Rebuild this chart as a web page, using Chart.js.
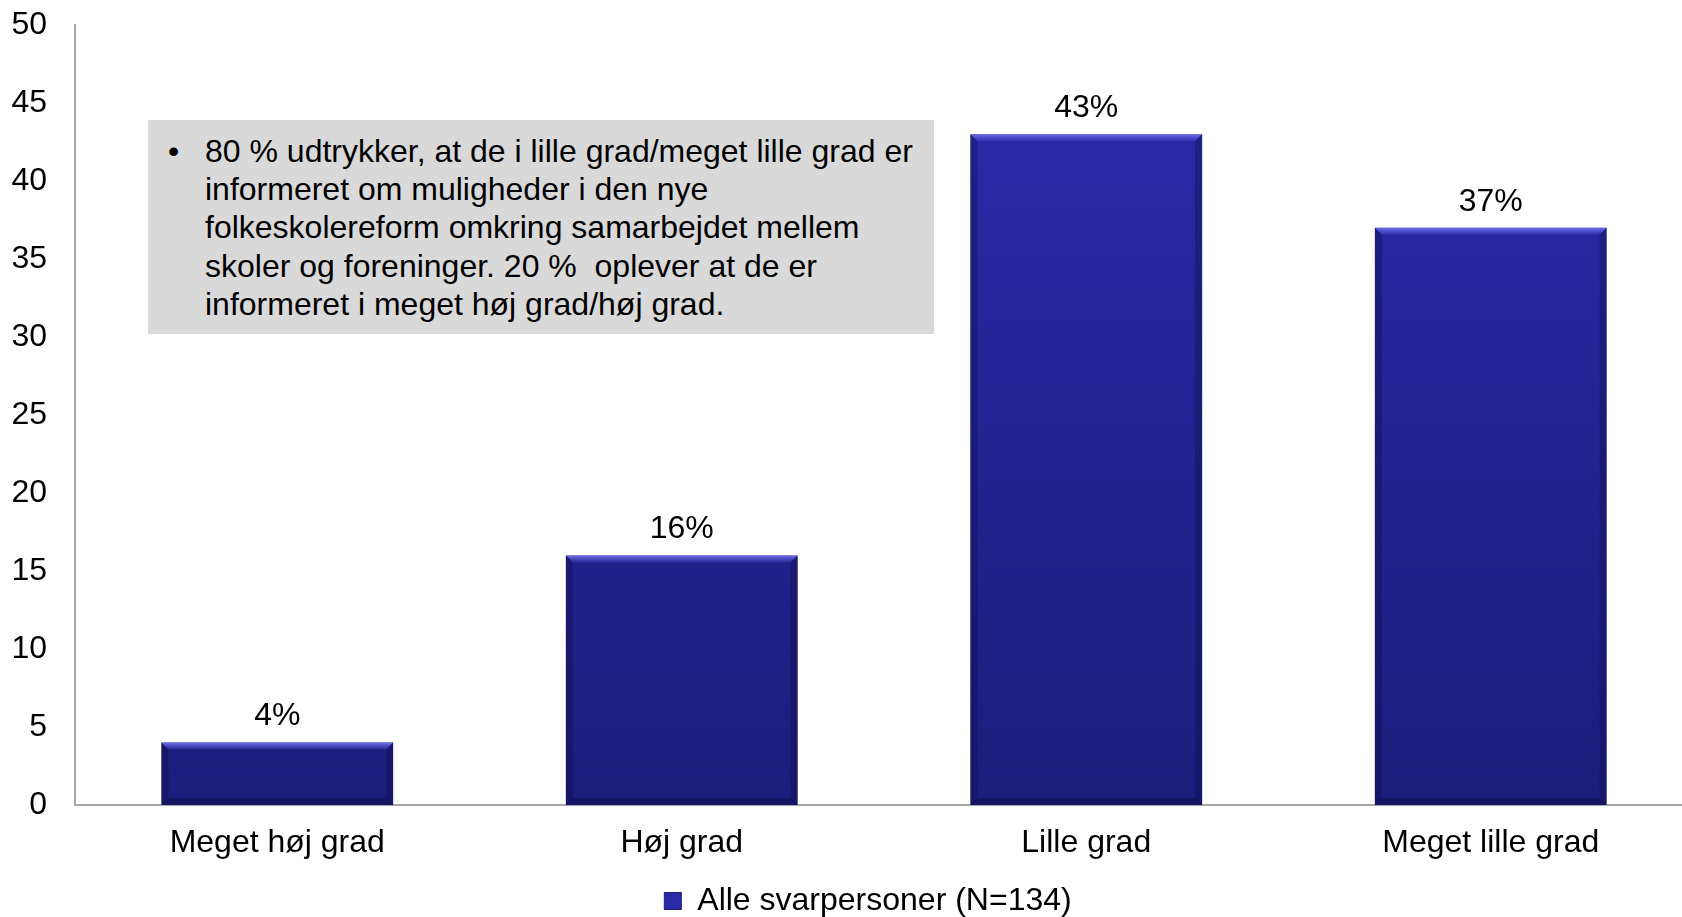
<!DOCTYPE html>
<html>
<head>
<meta charset="utf-8">
<script src="https://cdn.jsdelivr.net/npm/chart.js@4"></script>
<style>
  html, body { margin: 0; padding: 0; background: #fff; overflow: hidden; }
  #wrap { position: relative; width: 1682px; height: 917px; overflow: hidden; }
  #note {
    position: absolute; left: 148px; top: 120px; width: 786px; height: 214px;
    background: #d9d9d9; box-sizing: border-box; padding: 12px 10px 0 57px;
    font-family: "Liberation Sans", Arial, sans-serif; font-size: 32px; line-height: 38.2px; color: #000;
    white-space: nowrap;
  }
  #note .dot { position: absolute; left: 20px; top: 12px; }
</style>
</head>
<body>
<div id="wrap">
  <!-- the original's plot runs a little past the right edge, so the canvas is wider than the window -->
  <canvas id="chart" width="1693" height="917"></canvas>
  <div id="note"><span class="dot">•</span>80 % udtrykker, at de i lille grad/meget lille grad er<br>informeret om muligheder i den nye<br>folkeskolereform omkring samarbejdet mellem<br>skoler og foreninger. 20 %&nbsp; oplever at de er<br>informeret i meget høj grad/høj grad.</div>
</div>
<script>
const categories = ["Meget høj grad", "Høj grad", "Lille grad", "Meget lille grad"];
const values = [4, 16, 43, 37];
const seriesName = "Alle svarpersoner (N=134)";
const yTicks = [0, 5, 10, 15, 20, 25, 30, 35, 40, 45, 50];

const font = "Liberation Sans, Arial, sans-serif";

// bar fill: blue gradient, darker at the bottom
function barFill(context) {
  const chart = context.chart;
  const area = chart.chartArea;
  if (!area) return '#2626a0';
  const g = chart.ctx.createLinearGradient(0, area.top, 0, area.bottom);
  g.addColorStop(0, '#2b2bab');
  g.addColorStop(1, '#1c1c7c');
  return g;
}

// bevel edges + value labels
const bevel = {
  id: 'bevel',
  afterLayout(chart) {
    // legend sits a bit right of the canvas centre in the original
    chart.legend.left += 43;
  },
  afterDatasetsDraw(chart) {
    const ctx = chart.ctx;
    const meta = chart.getDatasetMeta(0);
    ctx.save();
    meta.data.forEach((bar, i) => {
      const left = bar.x - bar.width / 2;
      const right = bar.x + bar.width / 2;
      const top = bar.y;
      const bottom = bar.base;
      const b = 7;
      // top highlight
      const hl = ctx.createLinearGradient(0, top, 0, top + b);
      hl.addColorStop(0, 'rgba(120,120,245,0.9)');
      hl.addColorStop(1, 'rgba(90,90,220,0.2)');
      ctx.fillStyle = hl;
      ctx.beginPath();
      ctx.moveTo(left, top); ctx.lineTo(right, top);
      ctx.lineTo(right - b, top + b); ctx.lineTo(left + b, top + b);
      ctx.closePath(); ctx.fill();
      // sides
      ctx.fillStyle = 'rgba(10,10,60,0.3)';
      ctx.beginPath();
      ctx.moveTo(left, top); ctx.lineTo(left + b, top + b);
      ctx.lineTo(left + b, bottom - b); ctx.lineTo(left, bottom);
      ctx.closePath(); ctx.fill();
      ctx.beginPath();
      ctx.moveTo(right, top); ctx.lineTo(right - b, top + b);
      ctx.lineTo(right - b, bottom - b); ctx.lineTo(right, bottom);
      ctx.closePath(); ctx.fill();
      // bottom
      ctx.fillStyle = 'rgba(10,10,60,0.4)';
      ctx.beginPath();
      ctx.moveTo(left, bottom); ctx.lineTo(left + b, bottom - b);
      ctx.lineTo(right - b, bottom - b); ctx.lineTo(right, bottom);
      ctx.closePath(); ctx.fill();
      // label
      ctx.fillStyle = '#000';
      ctx.font = '32px ' + font;
      ctx.textAlign = 'center';
      ctx.textBaseline = 'middle';
      ctx.fillText(values[i] + '%', bar.x, top - 26);
    });
    ctx.restore();
  }
};

new Chart(document.getElementById('chart'), {
  type: 'bar',
  data: {
    labels: categories,
    datasets: [{
      label: seriesName,
      data: values,
      backgroundColor: barFill,
      borderWidth: 0,
      barPercentage: 0.573,
      categoryPercentage: 1
    }]
  },
  options: {
    responsive: false,
    animation: false,
    layout: { padding: { top: 25, right: 0, left: 0, bottom: -10 } },
    scales: {
      x: {
        afterFit(scale) { scale.height = 80; },
        grid: { display: false, drawTicks: false },
        border: { color: '#a6a6a6', width: 2 },
        ticks: { color: '#000', font: { size: 32, family: font }, padding: 19 }
      },
      y: {
        min: 0, max: 50,
        afterBuildTicks(scale) { scale.ticks = yTicks.map(v => ({ value: v })); },
        afterFit(scale) { scale.width = 75; scale.paddingTop = 0; scale.paddingBottom = 0; },
        grid: { display: false, drawTicks: false },
        border: { color: '#a6a6a6', width: 2 },
        ticks: { color: '#000', font: { size: 32, family: font }, padding: 28 }
      }
    },
    plugins: {
      tooltip: { enabled: false },
      legend: {
        position: 'bottom',
        labels: {
          color: '#000',
          font: { size: 32, family: font },
          boxWidth: 17, boxHeight: 17,
          padding: 0,
          generateLabels: () => [{ text: seriesName, fillStyle: '#2a2aa6', strokeStyle: '#1c1c7c', lineWidth: 1 }]
        }
      }
    }
  },
  plugins: [bevel]
});
</script>
</body>
</html>
